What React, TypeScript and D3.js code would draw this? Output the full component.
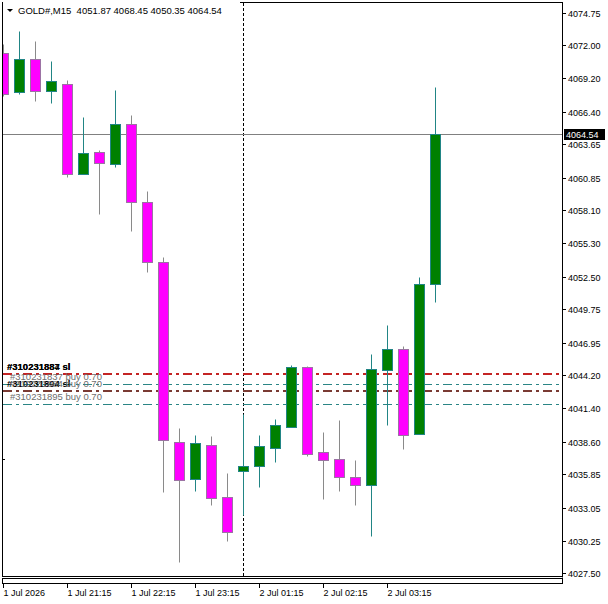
import React from "react";
import * as d3 from "d3";

// ---------- data ----------
const symbolLabel = "GOLD#,M15";

const barTimes = [
  "2026.07.01 20:15", "2026.07.01 20:30", "2026.07.01 20:45", "2026.07.01 21:00",
  "2026.07.01 21:15", "2026.07.01 21:30", "2026.07.01 21:45", "2026.07.01 22:00",
  "2026.07.01 22:15", "2026.07.01 22:30", "2026.07.01 22:45", "2026.07.01 23:00",
  "2026.07.01 23:15", "2026.07.01 23:30", "2026.07.01 23:45", "2026.07.02 01:00",
  "2026.07.02 01:15", "2026.07.02 01:30", "2026.07.02 01:45", "2026.07.02 02:00",
  "2026.07.02 02:15", "2026.07.02 02:30", "2026.07.02 02:45", "2026.07.02 03:00",
  "2026.07.02 03:15", "2026.07.02 03:30", "2026.07.02 03:45", "2026.07.02 04:00",
];

const openPrices = [
  4071.32, 4068.07, 4070.88, 4068.12, 4068.74, 4061.16, 4063.04, 4062.01,
  4065.38, 4058.81, 4053.75, 4038.59, 4035.44, 4038.34, 4033.94, 4036.12,
  4036.51, 4038.05, 4039.82, 4044.93, 4037.69, 4037.10, 4035.59, 4034.94,
  4044.66, 4046.37, 4039.27, 4051.87,
];
const highPrices = [
  4072.14, 4073.23, 4072.39, 4070.71, 4069.11, 4065.99, 4063.19, 4068.26,
  4066.16, 4059.70, 4054.20, 4039.71, 4039.12, 4039.06, 4035.92, 4040.89,
  4039.12, 4040.53, 4045.10, 4044.95, 4039.40, 4040.39, 4037.02, 4046.00,
  4048.47, 4046.70, 4052.46, 4068.45,
];
const lowPrices = [
  4067.76, 4067.90, 4067.28, 4067.11, 4060.94, 4061.14, 4057.74, 4061.72,
  4056.39, 4052.88, 4034.35, 4028.45, 4034.43, 4033.27, 4030.22, 4032.44,
  4034.77, 4036.87, 4039.80, 4037.35, 4033.76, 4034.43, 4033.23, 4030.64,
  4039.99, 4037.97, 4039.21, 4050.35,
];
const closePrices = [
  4067.90, 4070.88, 4068.18, 4068.96, 4061.16, 4062.96, 4062.09, 4065.38,
  4058.81, 4053.75, 4038.70, 4035.38, 4038.45, 4033.88, 4031.00, 4036.57,
  4038.20, 4039.97, 4044.93, 4037.55, 4037.08, 4035.61, 4034.94, 4044.68,
  4046.37, 4039.15, 4051.87, 4064.54,
];

const priceTicks = [
  4074.75, 4072.0, 4069.2, 4066.4, 4063.65, 4060.85, 4058.1, 4055.3, 4052.5,
  4049.75, 4046.95, 4044.2, 4041.4, 4038.6, 4035.85, 4033.05, 4030.25, 4027.5,
];

const timeTickBars = [
  "2026.07.01 20:15", "2026.07.01 21:15", "2026.07.01 22:15", "2026.07.01 23:15",
  "2026.07.02 01:15", "2026.07.02 02:15", "2026.07.02 03:15",
];
const timeTickLabels = [
  "1 Jul 2026", "1 Jul 21:15", "1 Jul 22:15", "1 Jul 23:15",
  "2 Jul 01:15", "2 Jul 02:15", "2 Jul 03:15",
];
const daySeparatorBar = "2026.07.02 01:00";

const orderTickets = ["310231887", "310231884", "310231837", "310231894", "310231884", "310231895"];
const orderKinds = ["sl", "sl", "buy 0.70", "sl", "buy 0.70", "buy 0.70"];
const orderPrices = [4044.26, 4044.26, 4043.42, 4042.83, 4042.83, 4041.79];

// ---------- styles ----------
const W = 608;
const H = 604;
const FONT = "'Liberation Sans', Arial, sans-serif";
const BULL_FILL = "#008000";
const BULL_LINE = "#218585";
const BEAR_FILL = "#ff00ff";
const BEAR_LINE = "#9c73a4";
const BEAR_WICK = "#8a8a8a";
const SL_COLOR = "#c42424";
const SL_MIX_COLOR = "#7a3a33";
const BUY_COLOR = "#2a8585";

export default function App() {
  const x = d3.scalePoint<string>().domain(barTimes).range([3.5, 435.5]);
  const y = d3.scaleLinear().domain([4027.5, 4074.75]).range([573.4, 12.6]);
  const py = (v: number) => Math.round(y(v)) + 0.5;

  const axisX = 562.5;
  const plotBottom = 576.5;
  const lastClose = closePrices[closePrices.length - 1];
  const last = closePrices.length - 1;
  const fmt = d3.format(".2f");

  const bars = barTimes.map((t, i) => ({
    t,
    o: openPrices[i],
    h: highPrices[i],
    l: lowPrices[i],
    c: closePrices[i],
  }));

  const orders = orderTickets.map((tk, i) => ({ tk, kind: orderKinds[i], price: orderPrices[i] }));
  const buyOrders = orders.filter((o) => o.kind !== "sl");
  const slOrders = orders.filter((o) => o.kind === "sl");

  const header = `${symbolLabel}  ${fmt(openPrices[last])} ${fmt(highPrices[last])} ${fmt(lowPrices[last])} ${fmt(lastClose)}`;

  return (
    <svg
      width={W}
      height={H}
      style={{ position: "absolute", left: 0, top: 0, background: "#fff" }}
      fontFamily={FONT}
    >
      <rect x={0} y={0} width={W} height={H} fill="#fff" />
      <defs>
        <clipPath id="plot">
          <rect x={3} y={3} width={559} height={573} />
        </clipPath>
      </defs>

      <g clipPath="url(#plot)">
        {/* day separator */}
        <line
          x1={x(daySeparatorBar)!}
          x2={x(daySeparatorBar)!}
          y1={3}
          y2={584}
          stroke="#000"
          strokeDasharray="3,2"
        />
        {/* bid line */}
        <line x1={3} x2={axisX} y1={py(lastClose)} y2={py(lastClose)} stroke="#808080" />

        {/* order lines */}
        {buyOrders.map((o, i) => (
          <line
            key={"b" + i}
            x1={3}
            x2={axisX}
            y1={py(o.price)}
            y2={py(o.price)}
            stroke={BUY_COLOR}
            strokeDasharray="9,4,3,4"
          />
        ))}
        {slOrders.map((o, i) => {
          const mixed = buyOrders.some((b) => Math.abs(b.price - o.price) < 0.01);
          return (
            <line
              key={"s" + i}
              x1={3}
              x2={axisX}
              y1={Math.round(y(o.price))}
              y2={Math.round(y(o.price))}
              stroke={mixed ? SL_MIX_COLOR : SL_COLOR}
              strokeWidth={2}
              strokeDasharray="9,4,3,4"
            />
          );
        })}

        {/* candles */}
        {bars.map((b, i) => {
          const cx = x(b.t)!;
          const bull = b.c >= b.o;
          const top = py(Math.max(b.o, b.c));
          const bot = py(Math.min(b.o, b.c));
          return (
            <g key={i}>
              <line
                x1={cx}
                x2={cx}
                y1={py(b.h)}
                y2={py(b.l)}
                stroke={bull ? BULL_LINE : BEAR_WICK}
              />
              <rect
                x={cx - 5}
                y={top}
                width={10}
                height={Math.max(1, bot - top)}
                fill={bull ? BULL_FILL : BEAR_FILL}
                stroke={bull ? BULL_LINE : BEAR_LINE}
              />
            </g>
          );
        })}

        {/* order labels */}
        {orders.map((o, i) => (
          <text
            key={"t" + i}
            x={o.kind === "sl" ? 7 : 10}
            y={Math.round(y(o.price)) - 4}
            fontSize={9.5}
            fontWeight={o.kind === "sl" ? "bold" : "normal"}
            fill={o.kind === "sl" ? "#000" : "#6e6e6e"}
          >
            {`#${o.tk} ${o.kind}`}
          </text>
        ))}

        {/* small left marker */}
        <line x1={3} x2={5} y1={459.5} y2={459.5} stroke="#000" />
      </g>

      {/* frame */}
      <line x1={2.5} x2={2.5} y1={2} y2={plotBottom} stroke="#000" />
      <line x1={240} x2={axisX} y1={2.5} y2={2.5} stroke="#000" />
      <line x1={axisX} x2={axisX} y1={2} y2={plotBottom + 1} stroke="#000" />
      <line x1={2} x2={axisX} y1={plotBottom} y2={plotBottom} stroke="#000" />
      <rect x={2.5} y={578.5} width={axisX - 2.5} height={5} fill="#fff" stroke="#000" />

      {/* header */}
      <path d="M7,9 L13,9 L10,12 Z" fill="#000" />
      <text x={18} y={14} fontSize={9.5} fill="#000" style={{ whiteSpace: "pre" }}>
        {header}
      </text>

      {/* price axis */}
      {priceTicks.map((v, i) => (
        <g key={"p" + i}>
          <line x1={axisX} x2={566} y1={py(v)} y2={py(v)} stroke="#000" />
          <text x={568} y={py(v)} dy="0.35em" fontSize={9} fill="#000">
            {fmt(v)}
          </text>
        </g>
      ))}
      {/* order marks on axis already via lines */}

      {/* current price label */}
      <rect x={564} y={Math.round(y(lastClose)) - 5} width={41} height={11} fill="#000" />
      <text x={566} y={py(lastClose)} dy="0.35em" fontSize={9} fill="#fff">
        {fmt(lastClose)}
      </text>

      {/* time axis */}
      {timeTickBars.map((t, i) => (
        <g key={"tt" + i}>
          <line x1={x(t)!} x2={x(t)!} y1={584} y2={588} stroke="#000" />
          <text x={x(t)!} y={596} fontSize={9} fill="#000">
            {timeTickLabels[i]}
          </text>
        </g>
      ))}
    </svg>
  );
}
